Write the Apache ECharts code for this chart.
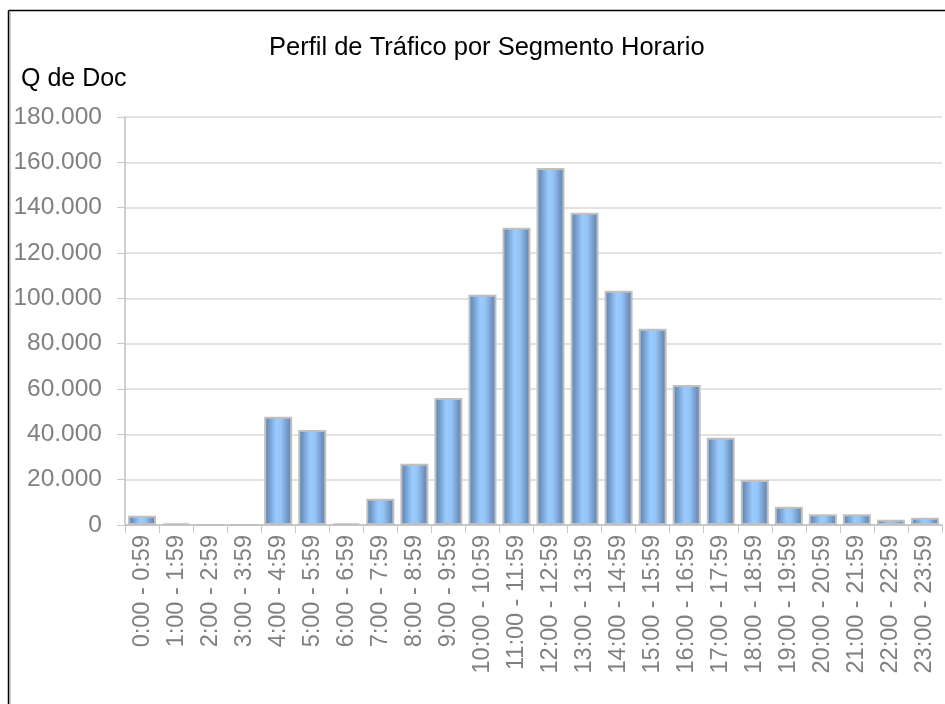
<!DOCTYPE html>
<html>
<head>
<meta charset="utf-8">
<script src="https://cdn.jsdelivr.net/npm/echarts@6/dist/echarts.min.js"></script>
<style>html,body{margin:0;padding:0;background:#fff}#c{width:945px;height:704px}</style>
</head>
<body>
<div id="c"></div>
<script>
const categories = ["0:00 - 0:59","1:00 - 1:59","2:00 - 2:59","3:00 - 3:59","4:00 - 4:59","5:00 - 5:59","6:00 - 6:59","7:00 - 7:59","8:00 - 8:59","9:00 - 9:59","10:00 - 10:59","11:00 - 11:59","12:00 - 12:59","13:00 - 13:59","14:00 - 14:59","15:00 - 15:59","16:00 - 16:59","17:00 - 17:59","18:00 - 18:59","19:00 - 19:59","20:00 - 20:59","21:00 - 21:59","22:00 - 22:59","23:00 - 23:59"];
const docs = [4100,700,0,0,47800,41900,700,11600,27000,56000,101600,131100,157500,137800,103300,86600,61800,38500,19900,8100,4700,4700,2300,3200];
const chartTitle = "Perfil de Tráfico por Segmento Horario";
const yName = "Q de Doc";

const chart = echarts.init(document.getElementById('c'), null, {renderer:'canvas'});
const font = "'Liberation Sans', Arial, sans-serif";
const barGrad = new echarts.graphic.LinearGradient(0,0,1,0,[
  {offset:0,color:'#5b80ad'},
  {offset:0.15,color:'#6f96c4'},
  {offset:0.42,color:'#9acbff'},
  {offset:0.6,color:'#95c5f8'},
  {offset:0.85,color:'#7095c2'},
  {offset:1,color:'#5d82af'}
]);
chart.setOption({
  animation:false,
  title:[
    {text:chartTitle,left:264,top:30,textStyle:{fontFamily:font,fontSize:25.5,fontWeight:'normal',color:'#000'}},
    {text:yName,left:16,top:62,textStyle:{fontFamily:font,fontSize:25,fontWeight:'normal',color:'#000'}}
  ],
  graphic:[
    {type:'line',shape:{x1:8.5,y1:10.5,x2:945,y2:10.5},style:{stroke:'#000',lineWidth:1.5}},
    {type:'line',shape:{x1:8.5,y1:10.5,x2:8.5,y2:704},style:{stroke:'#000',lineWidth:1.5}},
    {type:'line',shape:{x1:10,y1:12,x2:10,y2:704},style:{stroke:'#999',lineWidth:1}}
  ],
  grid:{left:125,right:3,top:117,bottom:179,containLabel:false},
  xAxis:{
    type:'category',data:categories,
    axisLine:{lineStyle:{color:'#c0c0c0',width:1.5}},
    axisTick:{show:true,length:8,lineStyle:{color:'#c8c8c8',width:1}},
    axisLabel:{rotate:90,interval:0,margin:10,fontFamily:font,fontSize:23.5,color:'#808080'},
    splitLine:{show:false}
  },
  yAxis:{
    type:'value',min:0,max:180000,interval:20000,
    axisLine:{show:true,lineStyle:{color:'#c0c0c0',width:1.5}},
    axisTick:{show:true,length:8,lineStyle:{color:'#c8c8c8',width:1}},
    axisLabel:{margin:23,fontFamily:font,fontSize:24.5,color:'#808080',
      formatter:v=>String(v).replace(/\B(?=(\d{3})+(?!\d))/g,'.')},
    splitLine:{show:true,lineStyle:{color:'#d9d9d9',width:1.5}}
  },
  series:[{
    type:'bar',data:docs,barWidth:28,
    itemStyle:{color:barGrad,borderColor:'#c0c0c0',borderWidth:2}
  }]
});
</script>
</body>
</html>
